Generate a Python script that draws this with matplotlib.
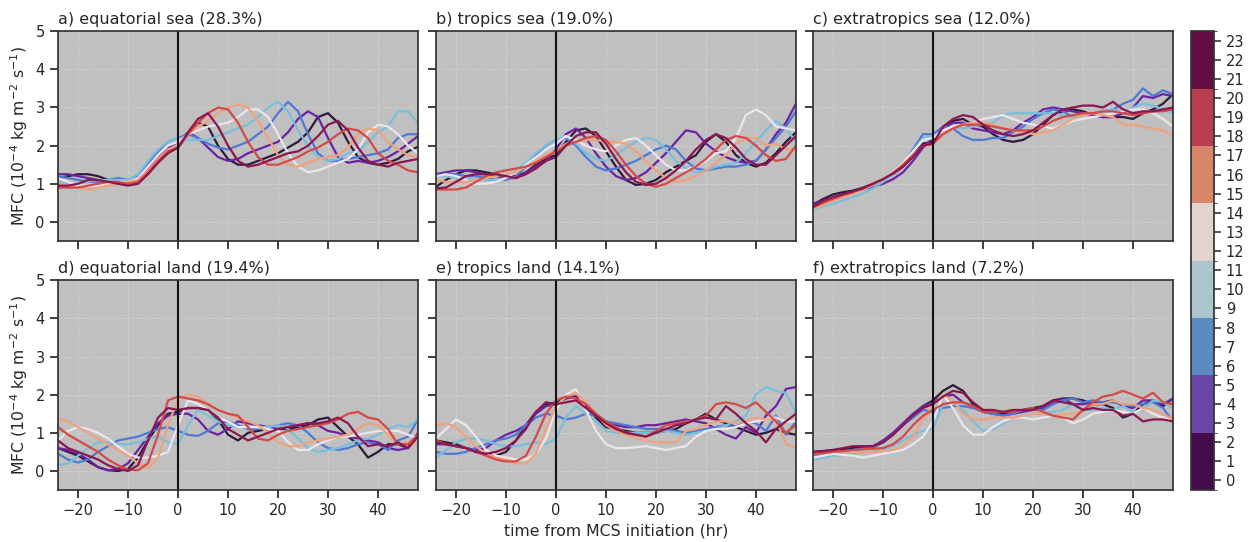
import numpy as np
import matplotlib
matplotlib.use("Agg")
import matplotlib.pyplot as plt
from matplotlib.colors import ListedColormap, BoundaryNorm

# time axis (hours from MCS initiation), 2-hourly
times = np.arange(-24, 49, 2)

# initiation-hour bins (local hour) and their colours
hour_bins = [0, 3, 6, 9, 12, 15, 18, 21]
line_colors = ['#2e1a3b', '#6c22a3', '#4f79d4', '#79bedb',
               '#ebe5ee', '#efa27e', '#d44a48', '#8b1850']
cbar_colors = ['#440a4c', '#6946a8', '#5a8bc1', '#acc4cc',
               '#e2d3cf', '#d8866a', '#b93f50', '#630f44']

titles = ['a) equatorial sea (28.3%)', 'b) tropics sea (19.0%)', 'c) extratropics sea (12.0%)',
          'd) equatorial land (19.4%)', 'e) tropics land (14.1%)', 'f) extratropics land (7.2%)']

# MFC composites, one row per initiation-hour bin (10^-4 kg m-2 s-1)
eq_sea = [
    [1.15,1.2,1.25,1.25,1.2,1.1,1.05,1.0,1.05,1.3,1.6,1.85, 1.95,2.3,2.6,2.5,2.0,1.65,1.5,1.5,1.6,1.7,1.8,1.95,2.1,2.35,2.75,2.85,2.6,2.1,1.7,1.55,1.5,1.55,1.65,1.85,1.97],
    [1.25,1.25,1.2,1.15,1.1,1.05,1.05,1.1,1.15,1.4,1.7,1.95, 2.1,2.35,2.2,1.95,1.7,1.6,1.65,1.8,1.9,2.0,2.1,2.35,2.7,2.9,2.75,2.2,1.7,1.55,1.6,1.55,1.6,1.7,1.85,2.05,2.25],
    [1.2,1.15,1.1,1.05,1.05,1.1,1.15,1.1,1.2,1.5,1.85,2.1, 2.2,2.3,2.2,2.05,1.95,1.9,2.0,2.1,2.3,2.5,2.85,3.15,2.9,2.3,1.8,1.6,1.6,1.65,1.7,1.75,1.8,1.9,2.2,2.3,2.3],
    [1.05,1.0,1.0,1.05,1.1,1.1,1.1,1.1,1.25,1.6,1.9,2.1, 2.2,2.15,2.15,2.15,2.25,2.35,2.45,2.55,2.75,3.0,3.15,2.9,2.4,2.0,1.7,1.6,1.65,1.8,1.85,2.1,2.35,2.5,2.9,2.9,2.6],
    [1.15,1.05,0.95,0.95,0.95,1.0,1.05,1.05,1.15,1.45,1.75,2.0, 2.1,2.3,2.4,2.5,2.55,2.6,2.75,2.95,2.95,2.75,2.3,1.8,1.45,1.3,1.35,1.45,1.55,1.65,1.9,2.35,2.55,2.5,2.3,2.0,1.8],
    [1.0,0.95,0.9,0.85,0.9,0.95,1.0,1.05,1.1,1.35,1.65,1.9, 2.0,2.3,2.5,2.65,2.85,3.0,3.08,3.0,2.65,2.2,1.75,1.5,1.45,1.55,1.65,1.7,1.75,1.95,2.3,2.45,2.4,2.1,1.9,1.75,1.7],
    [0.9,0.9,0.9,0.95,1.0,1.05,1.05,1.0,1.05,1.3,1.6,1.85, 1.95,2.3,2.6,2.85,3.0,2.95,2.6,2.1,1.7,1.5,1.5,1.6,1.7,1.85,1.95,2.1,2.3,2.45,2.4,2.2,1.8,1.6,1.5,1.35,1.3],
    [0.95,0.95,1.0,1.1,1.1,1.05,1.0,0.95,1.0,1.25,1.55,1.8, 1.95,2.35,2.7,2.85,2.5,2.0,1.6,1.45,1.5,1.6,1.7,1.8,1.85,2.0,2.25,2.55,2.65,2.4,1.95,1.6,1.5,1.45,1.55,1.6,1.65],
]
tr_sea = [
    [0.92,1.1,1.25,1.35,1.35,1.3,1.25,1.2,1.2,1.3,1.5,1.65, 1.75,2.1,2.4,2.45,2.25,1.85,1.45,1.1,0.97,1.0,1.1,1.3,1.45,1.6,1.75,2.1,2.3,2.1,1.75,1.55,1.45,1.55,1.8,2.1,2.35],
    [1.25,1.3,1.35,1.35,1.3,1.25,1.2,1.15,1.15,1.3,1.45,1.6, 1.9,2.3,2.45,2.2,1.8,1.45,1.2,1.1,1.15,1.3,1.55,1.8,2.1,2.4,2.35,2.05,1.85,1.7,1.6,1.55,1.6,1.9,2.3,2.6,3.1],
    [1.2,1.25,1.25,1.2,1.2,1.15,1.1,1.1,1.2,1.45,1.75,2.0, 2.15,2.2,2.0,1.7,1.45,1.35,1.4,1.5,1.6,1.75,1.9,2.0,1.9,1.6,1.4,1.35,1.4,1.45,1.45,1.5,1.6,1.9,2.2,2.5,2.9],
    [1.2,1.2,1.15,1.15,1.1,1.1,1.1,1.15,1.35,1.55,1.8,2.0, 2.15,2.25,2.05,1.8,1.65,1.6,1.75,1.95,2.1,2.2,2.15,1.9,1.6,1.4,1.3,1.35,1.45,1.5,1.55,1.8,2.1,2.4,2.65,2.45,2.1],
    [1.2,1.25,1.2,1.1,1.0,1.0,1.05,1.15,1.3,1.5,1.7,1.9, 2.05,2.25,2.15,2.0,1.9,1.85,2.0,2.15,2.2,2.0,1.75,1.5,1.35,1.35,1.45,1.6,1.8,1.85,2.2,2.8,2.95,2.8,2.5,2.45,2.4],
    [1.1,1.05,1.05,1.05,1.1,1.15,1.2,1.25,1.3,1.45,1.6,1.75, 1.85,2.05,2.1,2.15,2.15,2.1,2.1,2.05,1.85,1.6,1.35,1.15,1.05,1.1,1.2,1.35,1.55,1.75,2.05,2.2,2.2,2.0,2.05,1.9,1.9],
    [0.85,0.85,0.85,0.9,1.05,1.2,1.3,1.35,1.4,1.45,1.55,1.7, 1.85,2.0,2.1,2.2,2.25,2.15,1.85,1.5,1.2,1.0,0.92,1.0,1.15,1.3,1.45,1.65,1.9,2.15,2.25,2.2,2.0,1.75,1.6,1.65,2.0],
    [0.88,0.9,1.05,1.2,1.25,1.25,1.25,1.2,1.15,1.25,1.4,1.6, 1.7,2.0,2.25,2.35,2.35,2.05,1.65,1.3,1.05,0.97,1.0,1.15,1.35,1.6,1.9,2.15,2.3,2.2,1.95,1.65,1.5,1.5,1.75,2.0,2.25],
]
ex_sea = [
    [0.45,0.6,0.72,0.78,0.82,0.9,1.0,1.1,1.25,1.45,1.75,2.05, 2.1,2.45,2.65,2.7,2.55,2.5,2.3,2.15,2.1,2.15,2.3,2.55,2.8,2.9,2.95,2.9,2.8,2.75,2.75,2.75,2.7,2.85,2.95,3.1,3.35],
    [0.48,0.55,0.62,0.7,0.78,0.85,0.92,1.0,1.12,1.3,1.6,1.95, 2.2,2.45,2.6,2.6,2.45,2.4,2.35,2.3,2.4,2.6,2.75,2.95,3.0,2.95,2.9,2.85,2.8,2.75,2.75,2.85,3.0,3.3,3.25,3.35,3.3],
    [0.42,0.5,0.58,0.66,0.75,0.85,0.97,1.1,1.25,1.5,1.9,2.3, 2.3,2.5,2.45,2.25,2.15,2.15,2.2,2.2,2.35,2.5,2.7,2.85,2.95,2.9,2.75,2.8,2.85,2.9,2.95,3.1,3.2,3.5,3.3,3.45,3.35],
    [0.33,0.4,0.48,0.56,0.65,0.75,0.88,1.05,1.25,1.5,1.85,2.2, 2.25,2.4,2.5,2.45,2.5,2.55,2.6,2.8,2.85,2.85,2.85,2.85,2.85,2.8,2.75,2.8,2.85,2.9,2.95,2.9,3.0,3.1,3.05,2.95,2.85],
    [0.35,0.45,0.55,0.65,0.75,0.85,0.97,1.12,1.3,1.55,1.85,2.15, 2.2,2.4,2.5,2.55,2.6,2.7,2.75,2.8,2.7,2.6,2.55,2.5,2.45,2.55,2.65,2.7,2.75,2.8,2.85,2.9,2.95,2.95,2.85,2.7,2.5],
    [0.35,0.45,0.55,0.64,0.74,0.85,0.98,1.12,1.28,1.5,1.75,2.0, 2.05,2.3,2.45,2.55,2.6,2.6,2.55,2.45,2.4,2.35,2.3,2.35,2.4,2.55,2.7,2.8,2.85,2.8,2.75,2.55,2.55,2.5,2.45,2.4,2.25],
    [0.38,0.5,0.6,0.7,0.78,0.88,1.0,1.12,1.28,1.5,1.75,2.0, 2.05,2.3,2.45,2.55,2.55,2.55,2.5,2.45,2.4,2.4,2.4,2.5,2.65,2.75,2.8,2.85,2.85,2.9,2.9,2.85,2.8,2.85,2.9,2.9,2.95],
    [0.4,0.55,0.65,0.73,0.8,0.88,1.0,1.12,1.27,1.45,1.7,2.0, 2.05,2.5,2.7,2.8,2.75,2.55,2.4,2.3,2.25,2.3,2.4,2.6,2.8,2.95,3.0,3.05,3.05,3.0,3.15,2.95,2.85,2.9,2.9,2.95,3.0],
]
eq_land = [
    [0.6,0.5,0.4,0.25,0.1,0.02,0.0,0.05,0.35,0.8,1.2,1.5, 1.55,1.65,1.65,1.6,1.35,0.95,0.8,1.0,1.05,1.1,1.1,1.1,1.15,1.2,1.35,1.4,1.15,0.9,0.7,0.35,0.5,0.7,0.7,0.6,0.95],
    [0.6,0.55,0.45,0.3,0.1,0.02,0.05,0.2,0.55,0.9,1.25,1.45, 1.5,1.5,1.35,1.05,0.95,1.1,1.3,1.25,1.2,1.15,1.1,1.15,1.2,1.25,1.2,1.05,1.0,0.9,0.85,0.8,0.75,0.6,0.55,0.6,1.0],
    [0.45,0.3,0.22,0.3,0.5,0.65,0.8,0.85,0.9,1.0,1.1,1.15, 1.05,0.95,0.92,1.05,1.25,1.3,1.2,1.1,1.1,1.15,1.2,1.25,1.2,1.0,0.75,0.6,0.55,0.6,0.7,0.75,0.7,0.55,0.8,0.9,1.35],
    [0.15,0.2,0.4,0.6,0.75,0.75,0.7,0.7,0.75,0.85,0.9,0.75, 0.7,1.2,1.6,1.45,1.3,1.2,1.15,1.15,1.15,1.15,1.2,1.1,0.85,0.6,0.5,0.55,0.6,0.7,0.8,0.85,0.95,1.1,1.2,1.15,1.35],
    [0.8,1.05,1.15,1.1,1.0,0.85,0.65,0.45,0.35,0.35,0.4,0.5, 1.2,1.85,1.75,1.6,1.4,1.3,1.15,1.15,1.15,1.1,1.05,0.75,0.55,0.55,0.7,0.8,0.9,0.9,0.95,1.0,1.05,1.05,1.05,0.95,0.85],
    [1.38,1.3,1.15,1.0,0.85,0.7,0.55,0.4,0.2,0.07,0.35,1.2, 1.9,2.0,1.95,1.75,1.6,1.5,1.4,1.3,1.2,1.0,0.75,0.65,0.65,0.75,0.8,0.85,0.9,0.95,1.1,1.25,1.2,0.95,0.7,0.75,0.7],
    [1.15,0.95,0.8,0.65,0.5,0.3,0.15,0.03,0.02,0.2,0.95,1.85, 1.95,1.9,1.85,1.75,1.6,1.5,1.45,1.15,0.85,0.8,0.95,1.05,1.1,1.15,1.2,1.25,1.35,1.5,1.55,1.4,1.35,1.1,0.7,0.7,0.95],
    [0.8,0.6,0.5,0.4,0.3,0.15,0.05,0.0,0.15,0.8,1.4,1.65, 1.6,1.65,1.65,1.6,1.4,1.1,0.95,0.8,0.9,1.0,1.1,1.15,1.2,1.25,1.25,1.3,1.4,1.25,0.9,0.65,0.7,0.65,0.75,0.6,0.9],
]
tr_land = [
    [0.8,0.75,0.7,0.6,0.5,0.45,0.4,0.5,0.8,1.2,1.55,1.75, 1.8,1.95,1.95,1.7,1.4,1.15,1.1,1.05,1.0,1.0,1.0,1.05,1.1,1.25,1.35,1.5,1.35,1.25,1.15,1.05,0.95,1.0,1.1,1.0,0.95],
    [0.7,0.7,0.65,0.6,0.55,0.6,0.8,0.95,1.05,1.2,1.5,1.7, 1.75,1.9,1.95,1.75,1.45,1.25,1.2,1.15,1.15,1.2,1.2,1.25,1.3,1.35,1.3,1.25,1.1,0.95,0.85,1.15,1.0,1.45,1.7,2.15,2.2],
    [0.5,0.45,0.45,0.5,0.6,0.7,0.8,0.85,0.95,1.2,1.4,1.5, 1.45,1.35,1.4,1.5,1.45,1.3,1.25,1.2,1.15,1.1,1.1,1.1,1.05,1.0,1.05,1.1,1.15,1.2,1.15,1.3,1.25,1.05,1.45,0.95,1.3],
    [0.35,0.55,0.75,0.85,0.85,0.8,0.7,0.65,0.65,0.7,0.75,0.7, 0.85,1.4,1.7,1.5,1.3,1.05,1.0,1.0,1.0,1.0,1.0,1.05,1.0,0.95,1.0,1.05,1.1,1.2,1.3,1.45,2.0,2.2,2.1,2.05,1.5],
    [0.85,1.1,1.35,1.2,0.9,0.55,0.4,0.35,0.3,0.3,0.45,0.85, 1.6,2.0,2.15,1.6,1.05,0.7,0.6,0.6,0.62,0.65,0.6,0.55,0.6,0.65,0.9,1.05,1.1,1.1,1.15,1.25,1.3,1.35,1.4,1.3,1.3],
    [1.2,1.25,1.15,0.9,0.65,0.45,0.35,0.3,0.2,0.2,0.45,1.1, 1.7,1.95,2.05,1.8,1.5,1.2,1.05,0.95,0.85,0.8,0.75,0.75,0.75,1.05,1.1,1.2,1.3,1.3,1.25,1.3,1.4,1.35,1.35,0.7,0.6],
    [0.8,0.7,0.65,0.6,0.5,0.4,0.3,0.25,0.25,0.4,0.9,1.5, 1.85,1.95,1.9,1.75,1.5,1.3,1.15,1.0,0.95,0.9,1.05,1.2,1.25,1.3,1.35,1.45,1.75,1.8,1.75,1.65,1.8,1.55,1.3,1.0,1.2],
    [0.75,0.7,0.65,0.6,0.5,0.45,0.5,0.6,0.8,1.1,1.55,1.8, 1.75,1.8,1.85,1.65,1.45,1.25,1.1,1.0,0.95,0.9,1.0,1.1,1.2,1.25,1.35,1.4,1.35,1.7,1.5,1.25,1.05,0.75,1.1,1.3,1.5],
]
ex_land = [
    [0.5,0.52,0.55,0.57,0.6,0.62,0.65,0.75,0.95,1.2,1.45,1.7, 1.85,2.1,2.25,2.1,1.75,1.55,1.5,1.5,1.55,1.6,1.65,1.7,1.85,1.9,1.9,1.85,1.75,1.75,1.65,1.4,1.5,1.75,1.85,1.7,1.9],
    [0.45,0.47,0.5,0.52,0.55,0.6,0.65,0.8,1.0,1.25,1.5,1.7, 1.8,1.95,2.0,1.8,1.7,1.6,1.5,1.45,1.5,1.55,1.6,1.65,1.8,1.9,1.75,1.75,1.8,1.8,1.85,1.7,1.65,1.85,1.85,1.75,1.9],
    [0.4,0.42,0.45,0.5,0.55,0.58,0.6,0.75,0.95,1.2,1.4,1.6, 1.55,1.65,1.7,1.7,1.65,1.55,1.5,1.45,1.5,1.6,1.6,1.6,1.75,1.85,1.9,1.8,1.85,1.8,1.8,1.75,1.7,1.75,1.8,1.65,1.3],
    [0.3,0.35,0.4,0.42,0.45,0.48,0.5,0.55,0.65,0.8,0.95,1.05, 1.1,1.75,1.8,1.6,1.3,1.05,1.1,1.25,1.4,1.45,1.5,1.5,1.55,1.6,1.75,1.6,1.6,1.65,1.6,1.7,1.55,1.6,1.85,1.8,1.65],
    [0.35,0.4,0.45,0.42,0.4,0.35,0.4,0.45,0.5,0.55,0.7,0.9, 1.3,2.0,1.65,1.2,0.95,0.95,1.15,1.3,1.4,1.4,1.35,1.4,1.45,1.4,1.25,1.35,1.5,1.55,1.6,1.55,1.5,1.65,1.5,1.4,1.35],
    [0.45,0.47,0.5,0.5,0.5,0.5,0.5,0.52,0.55,0.65,0.9,1.35, 1.7,2.0,1.85,1.5,1.35,1.35,1.4,1.4,1.4,1.45,1.5,1.5,1.45,1.5,1.5,1.55,1.75,1.75,1.85,1.75,1.75,1.65,1.6,1.5,1.35],
    [0.45,0.47,0.5,0.52,0.55,0.57,0.58,0.6,0.7,0.9,1.2,1.45, 1.6,1.75,1.8,1.8,1.7,1.55,1.55,1.55,1.55,1.6,1.65,1.55,1.45,1.4,1.35,1.6,1.8,1.95,2.0,2.1,2.0,1.9,2.05,1.8,1.75],
    [0.5,0.52,0.55,0.6,0.65,0.65,0.65,0.75,0.95,1.2,1.45,1.65, 1.75,1.95,2.1,2.05,1.8,1.6,1.6,1.55,1.6,1.6,1.6,1.7,1.85,1.8,1.75,1.6,1.65,1.6,1.6,1.45,1.5,1.3,1.35,1.35,1.3],
]

panels = [eq_sea, tr_sea, ex_sea, eq_land, tr_land, ex_land]

plt.rcParams['font.family'] = 'DejaVu Sans'
plt.rcParams['font.size'] = 10
plt.rcParams['text.color'] = '#262626'
plt.rcParams['axes.labelcolor'] = '#262626'
plt.rcParams['xtick.color'] = '#262626'
plt.rcParams['ytick.color'] = '#262626'

fig = plt.figure(figsize=(12.56, 5.42), dpi=100)

lefts = [0.0462, 0.3471, 0.6473]
bottoms = [0.5554, 0.0959]
w, h = 0.2866, 0.3870

axes = []
for i, data in enumerate(panels):
    r, c = divmod(i, 3)
    ax = fig.add_axes([lefts[c], bottoms[r], w, h])
    axes.append(ax)
    ax.set_facecolor('#c0c0c0')
    ax.grid(True, color='white', alpha=0.22, linestyle='--', linewidth=0.7)
    ax.set_axisbelow(True)
    for k, series in enumerate(data):
        ax.plot(times, series, color=line_colors[k], lw=1.6)
    ax.axvline(0, color='#111111', lw=1.5)
    ax.set_xlim(-24, 48)
    ax.set_ylim(-0.5, 5)
    ax.set_xticks([-20, -10, 0, 10, 20, 30, 40])
    ax.set_yticks([0, 1, 2, 3, 4, 5])
    ax.tick_params(direction='out', length=6, width=1.25, labelsize=10.5)
    for sp in ax.spines.values():
        sp.set_linewidth(1.25)
        sp.set_color('#333333')
    ax.set_title(titles[i], loc='left', fontsize=11.5, pad=5)
    if r == 0:
        ax.set_xticklabels([])
    if c > 0:
        ax.set_yticklabels([])
    else:
        ax.set_ylabel('MFC ($10^{-4}$ kg m$^{-2}$ s$^{-1}$)', fontsize=11.3)

axes[4].set_xlabel('time from MCS initiation (hr)', fontsize=11.3)

# discrete colourbar for initiation hour
cmap = ListedColormap(cbar_colors)
bounds = np.arange(-0.5, 24, 3)
norm = BoundaryNorm(bounds, cmap.N)
cax = fig.add_axes([0.9483, 0.0959, 0.0183, 0.8466])
sm = plt.cm.ScalarMappable(cmap=cmap, norm=norm)
cb = fig.colorbar(sm, cax=cax, ticks=range(24))
cb.outline.set_linewidth(1.25)
cb.outline.set_edgecolor('#333333')
cax.tick_params(length=5, width=1.1, labelsize=10.5)

fig.savefig('out.png', dpi=100)
